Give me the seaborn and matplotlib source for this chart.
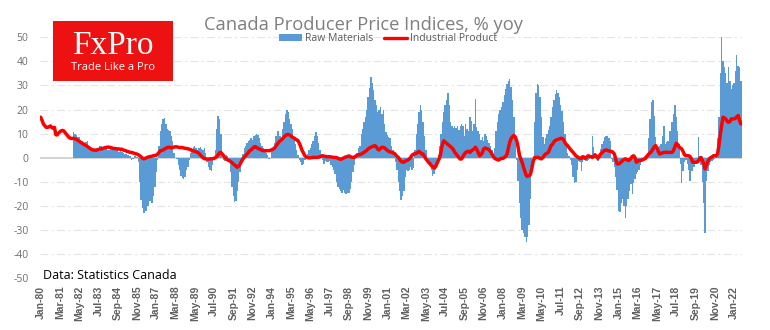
import numpy as np
import pandas as pd
import matplotlib
matplotlib.use("Agg")
import matplotlib.pyplot as plt
import seaborn as sns
from matplotlib.patches import Rectangle, Patch
from matplotlib.lines import Line2D

# ---------------- data (monthly, % yoy), Jan-1980 .. Jun-2022 ----------------
industrial_product = [
    16.8, 15.5, 14.0, 13.2, 12.6, 12.6, 12.8, 13.2, 12.6, 12.2, 12.6, 9.5,    # 1980
    9.5, 10.2, 10.8, 11.2, 11.3, 11.0, 10.2, 9.5, 8.8, 8.2, 8.0, 8.0,        # 1981
    8.0, 7.8, 7.6, 7.2, 6.8, 6.4, 6.0, 5.7, 5.3, 5.0, 4.6, 4.2,              # 1982
    3.8, 3.4, 3.2, 3.2, 3.0, 3.2, 3.4, 3.6, 3.6, 3.8, 4.0, 4.2,              # 1983
    4.3, 4.4, 4.3, 4.2, 4.0, 3.8, 3.8, 3.7, 3.6, 3.6, 3.5, 3.5,              # 1984
    3.2, 3.0, 2.8, 2.6, 2.4, 2.2, 2.2, 2.0, 1.8, 1.6, 1.5, 1.2,              # 1985
    0.8, 0.3, -0.2, -0.5, -0.3, 0.0, 0.2, 0.4, 0.5, 0.6, 0.8, 0.9,           # 1986
    1.0, 1.5, 2.2, 2.9, 3.0, 3.2, 3.6, 3.9, 4.2, 4.3, 4.2, 4.1,              # 1987
    4.2, 4.4, 4.5, 4.5, 4.3, 4.2, 4.2, 4.2, 4.0, 3.9, 3.8, 3.7,              # 1988
    3.5, 3.3, 3.0, 2.8, 2.6, 2.4, 2.2, 1.8, 1.2, 0.5, 0.0, -0.4,             # 1989
    -0.5, -0.6, -0.6, -0.5, -0.5, -0.4, -0.3, 0.0, 0.5, 1.2, 2.0, 2.2,       # 1990
    1.5, 0.8, 0.0, -0.6, -1.0, -1.2, -1.6, -2.0, -2.6, -3.0, -3.6, -4.0,     # 1991
    -3.5, -2.6, -1.5, -0.5, 0.2, 0.8, 1.5, 2.2, 2.9, 3.2, 3.8, 4.4,          # 1992
    4.6, 4.2, 3.8, 3.6, 3.3, 3.0, 2.9, 2.9, 2.9, 2.9, 2.9, 3.0,              # 1993
    3.3, 3.6, 4.0, 4.8, 5.6, 6.4, 6.9, 7.4, 8.0, 8.6, 9.2, 9.6,              # 1994
    9.6, 9.4, 9.0, 8.5, 8.2, 7.8, 7.4, 7.1, 6.0, 4.6, 3.0, 2.0,              # 1995
    0.8, 0.3, 0.0, -0.1, -0.1, 0.0, 0.1, 0.1, 0.1, 0.1, 0.2, 0.4,            # 1996
    0.6, 0.8, 0.6, 0.5, 0.4, 0.4, 0.4, 0.3, 0.2, 0.1, 0.1, 0.0,              # 1997
    -0.2, -0.5, -0.7, -0.5, -0.2, 0.1, 0.3, 0.5, 0.7, 0.4, 0.2, 0.1,         # 1998
    0.1, 0.6, 1.0, 1.2, 1.3, 1.5, 1.8, 2.2, 2.6, 3.0, 3.6, 4.0,              # 1999
    4.3, 4.6, 4.8, 5.0, 4.5, 3.5, 3.2, 3.8, 4.3, 4.3, 4.0, 3.5,              # 2000
    3.0, 2.6, 2.4, 2.2, 2.0, 1.8, 1.2, 0.5, 0.1, -0.8, -1.5, -1.9,           # 2001
    -1.9, -1.5, -1.2, -1.0, -0.5, 0.2, 1.0, 1.5, 1.5, 1.8, 2.2, 2.6,         # 2002
    2.2, 1.5, 1.5, 0.5, -0.5, -1.2, -2.0, -2.5, -3.3, -3.8, -4.3, -3.8,      # 2003
    -2.5, -1.2, 0.0, 2.5, 5.5, 7.0, 6.5, 6.0, 5.5, 5.0, 4.5, 4.0,            # 2004
    3.3, 2.2, 1.5, 0.8, 0.0, -0.6, -0.5, 0.5, 1.5, 2.2, 2.5, 2.6,            # 2005
    2.2, 2.8, 3.2, 3.6, 4.3, 3.5, 2.2, 0.8, 1.2, 2.0, 3.6, 4.0,              # 2006
    3.8, 3.6, 3.2, 2.5, 1.5, 0.5, -0.3, -0.6, -0.8, -1.0, -0.5, -0.3,        # 2007
    -0.3, 0.1, 0.5, 1.5, 4.0, 6.5, 8.0, 8.8, 9.2, 8.5, 7.0, 4.5,             # 2008
    1.0, -0.5, -2.0, -4.0, -5.8, -7.5, -7.8, -7.5, -7.0, -4.5, -1.5, 0.0,    # 2009
    0.1, 0.1, 0.0, -0.3, -0.5, 0.0, 0.8, 1.5, 1.8, 2.2, 3.5, 5.0,            # 2010
    5.5, 6.5, 7.1, 7.4, 7.6, 7.8, 8.0, 8.0, 7.5, 6.4, 5.5, 5.0,              # 2011
    4.2, 3.5, 2.8, 2.2, 1.5, 0.8, 0.4, 0.0, -0.3, -0.3, 0.4, 0.2,            # 2012
    -0.3, 0.3, 0.8, 0.5, 0.4, 0.1, 0.5, 1.2, 0.5, -0.3, 0.5, 1.5,            # 2013
    2.0, 2.6, 3.0, 3.2, 3.0, 2.8, 2.6, 2.6, 2.2, 1.5, -0.5, -2.6,            # 2014
    -2.6, -2.3, -1.8, -1.2, -0.8, -0.5, -0.8, -1.2, -1.0, -0.3, 0.5, 0.8,    # 2015
    0.0, -1.9, -1.5, -1.2, -1.2, -1.0, -0.8, -0.5, 0.1, 0.8, 1.5, 2.0,       # 2016
    2.6, 3.5, 4.5, 5.0, 4.0, 2.5, 1.5, 1.8, 2.0, 2.2, 2.2, 2.2,              # 2017
    2.2, 2.2, 2.2, 2.2, 3.0, 4.5, 6.0, 5.5, 4.5, 4.0, 3.6, 2.5,              # 2018
    1.2, 0.8, 0.8, 0.8, 0.5, -0.5, -1.9, -1.9, -1.9, -1.9, -1.5, -0.3,       # 2019
    0.1, -1.2, -2.5, -4.7, -3.0, -1.5, -0.5, 0.0, 0.3, 0.8, 0.8, 0.8,        # 2020
    1.5, 5.0, 9.5, 13.5, 16.8, 16.5, 16.1, 15.0, 14.7, 15.0, 16.1, 16.1,     # 2021
    16.1, 16.3, 17.0, 17.5, 15.5, 14.0,                                      # 2022
]

raw_materials = [
    None, None, None, None, None, None, None, None, None, None, None, None,  # 1980
    None, None, None, None, None, None, None, None, None, None, None, None,  # 1981
    10.5, 10.0, 9.5, 8.5, 8.5, 7.5, 7.0, 6.5, 6.0, 6.5, 7.0, 5.0,            # 1982
    4.5, 4.0, 3.5, 3.0, 3.0, 4.0, 4.0, 5.0, 5.0, 4.0, 4.5, 4.0,              # 1983
    3.5, 3.0, 3.0, 4.0, 3.5, 3.0, 3.0, 3.5, 3.0, 2.5, 3.0, 2.5,              # 1984
    2.0, 1.5, 1.5, 1.0, 1.0, 0.5, -1.0, -0.5, 0.5, 0.5, 0.2, -2.0,           # 1985
    -10.0, -17.5, -21.0, -23.0, -22.0, -22.0, -20.0, -18.0, -18.0, -19.0, -16.0, -12.0,  # 1986
    -6.0, -1.0, 5.0, 11.0, 14.0, 16.0, 16.5, 14.0, 12.0, 11.5, 11.0, 9.0,    # 1987
    7.0, 2.0, 0.0, -0.5, -3.0, -5.0, -7.5, -8.5, -9.0, -8.0, -5.0, -4.0,     # 1988
    -1.0, 2.0, 3.0, 4.5, 5.0, 4.0, 3.0, 4.0, 4.5, 3.5, 3.0, 4.0,             # 1989
    2.0, -2.0, -4.0, -5.0, -5.5, -3.0, -1.0, 3.0, 12.0, 17.5, 16.0, 10.0,    # 1990
    2.0, -1.0, -1.5, 1.0, 0.5, -2.0, -6.0, -12.0, -16.0, -18.5, -18.0, -14.0,  # 1991
    -10.0, -6.0, -2.0, 1.5, 4.0, 5.0, 6.0, 7.0, 7.5, 8.0, 7.5, 9.0,          # 1992
    9.5, 10.0, 9.5, 8.0, 6.0, 5.0, 4.0, 3.0, 2.0, 1.0, -0.5, 0.0,            # 1993
    2.5, 4.0, 6.0, 9.0, 11.0, 11.0, 9.0, 7.0, 12.0, 15.0, 18.0, 20.0,        # 1994
    19.0, 16.0, 14.0, 12.0, 8.0, 5.5, 3.0, 1.0, -1.0, -2.0, -3.0, -2.5,      # 1995
    -1.0, 0.5, 1.5, 3.0, 4.0, 5.5, 7.0, 9.0, 10.5, 9.0, 6.0, 3.0,            # 1996
    1.5, -1.0, -2.5, -1.5, -2.0, -2.0, -1.5, -3.0, -4.0, -5.0, -7.0, -10.0,  # 1997
    -12.0, -13.0, -14.0, -14.5, -13.5, -14.5, -15.0, -14.5, -14.5, -13.0, -10.0, -6.0,  # 1998
    -3.0, 0.0, 2.0, 4.0, 5.0, 9.9, 12.0, 15.0, 17.0, 20.0, 25.0, 29.0,       # 1999
    33.5, 31.0, 28.0, 24.0, 22.0, 19.0, 20.0, 21.0, 18.0, 20.0, 14.0, 10.5,  # 2000
    9.5, 8.5, 8.0, 5.0, 3.0, 1.0, -2.0, -5.0, -10.0, -14.0, -17.5, -16.0,    # 2001
    -14.0, -8.0, -5.0, -5.5, -5.0, -4.0, -5.0, -4.5, 3.0, 10.0, 14.0, 19.0,  # 2002
    21.7, 20.0, 15.0, 9.0, 3.0, 0.0, -2.0, -3.0, -5.0, -7.5, -7.0, -5.0,     # 2003
    -3.0, 1.0, 5.0, 10.0, 15.0, 19.0, 22.0, 24.0, 27.0, 22.0, 15.0, 13.0,    # 2004
    12.5, 13.3, 12.5, 13.3, 11.5, 13.0, 14.0, 13.3, 9.0, 14.0, 12.0, 11.0,   # 2005
    16.8, 15.4, 11.0, 14.0, 24.4, 12.6, 11.0, 9.9, 7.5, 8.5, 7.1, 9.9,       # 2006
    9.0, 7.5, 6.0, 5.0, 3.0, 1.5, 4.0, 11.0, 15.0, 18.0, 20.0, 21.0,         # 2007
    23.0, 26.0, 28.5, 30.5, 32.0, 32.5, 29.5, 24.0, 17.0, 6.0, -1.0, -9.5,   # 2008
    -19.0, -25.0, -30.0, -31.5, -33.0, -35.0, -33.0, -28.0, -17.0, -5.0, 0.0, 15.0,  # 2009
    27.0, 30.5, 30.0, 25.0, 17.0, 8.5, 5.5, 8.0, 10.0, 11.5, 13.0, 17.0,     # 2010
    21.0, 24.0, 26.5, 28.0, 27.0, 25.0, 22.0, 19.5, 15.0, 10.0, 6.0, 2.0,    # 2011
    0.5, -1.0, -3.0, -8.0, -10.5, -10.0, -5.0, -1.5, -2.0, -5.5, -2.0, -1.0,  # 2012
    -1.5, -1.5, -1.0, -0.5, 1.0, 9.0, 4.5, 1.5, 0.0, -1.5, 1.5, 3.5,         # 2013
    5.5, 7.0, 8.5, 9.0, 9.2, 8.0, 7.0, -0.5, -2.0, -4.0, -8.0, -13.5,        # 2014
    -22.0, -22.5, -19.0, -17.0, -20.0, -25.0, -20.0, -17.0, -14.0, -11.0, -15.0, -10.5,  # 2015
    -9.0, -7.0, -6.0, -5.0, -3.0, -0.5, -1.2, -0.5, -1.0, -0.5, 8.0, 16.0,   # 2016
    23.0, 24.0, 17.5, 8.5, 5.0, 4.3, 5.0, 5.7, 9.0, 13.0, 5.7, 6.5,          # 2017
    7.0, 11.0, 11.0, 15.0, 18.0, 22.0, 17.0, 11.0, 5.7, -2.5, -10.5, -5.5,   # 2018
    -2.0, -1.0, -2.5, -5.0, -9.5, -5.5, -5.5, -4.0, -2.5, -1.5, 8.5, 0.5,    # 2019
    -3.0, -10.0, -19.0, -31.5, -9.5, -5.5, -3.0, -2.0, -1.5, -1.0, -0.5, 0.5,  # 2020
    8.0, 17.0, 35.0, 50.0, 40.0, 37.5, 35.0, 31.0, 37.5, 32.0, 28.5, 30.0,   # 2021
    31.0, 36.0, 42.5, 38.0, 37.5, 32.0,                                      # 2022
]

tick_labels = ["Jan-80", "Mar-81", "May-82", "Jul-83", "Sep-84", "Nov-85",
               "Jan-87", "Mar-88", "May-89", "Jul-90", "Sep-91", "Nov-92",
               "Jan-94", "Mar-95", "May-96", "Jul-97", "Sep-98", "Nov-99",
               "Jan-01", "Mar-02", "May-03", "Jul-04", "Sep-05", "Nov-06",
               "Jan-08", "Mar-09", "May-10", "Jul-11", "Sep-12", "Nov-13",
               "Jan-15", "Mar-16", "May-17", "Jul-18", "Sep-19", "Nov-20",
               "Jan-22"]
tick_step = 14  # months between labels
y_ticks = [-50, -40, -30, -20, -10, 0, 10, 20, 30, 40, 50]

title = "Canada Producer Price Indices, % yoy"
source = "Data: Statistics Canada"

# ---------------- build frame ----------------
df = pd.DataFrame({
    "month": np.arange(len(industrial_product)),
    "industrial": np.array(industrial_product, dtype=float),
    "raw": np.array(raw_materials, dtype=float),
})
bars = df.dropna(subset=["raw"])

sns.set_theme(style="white")
plt.rcParams["font.family"] = ["Open Sans", "DejaVu Sans"]

BLUE = "#5B9BD5"
RED = "#FF0000"
GRAY = "#6f6f6f"

fig = plt.figure(figsize=(7.7, 3.3), dpi=100)
ax = fig.add_axes([40 / 770, 1 - 278 / 330, (741.6 - 40) / 770, 240.7 / 330])

sns.barplot(data=bars, x="month", y="raw", native_scale=True, color=BLUE,
            saturation=1, width=1.0, linewidth=0, errorbar=None, ax=ax, zorder=2)
sns.lineplot(data=df, x="month", y="industrial", color=RED, linewidth=2.5,
             ax=ax, zorder=4)

ax.axhline(0, color="#d4d4d4", lw=1.4, zorder=1.5)
for yv in y_ticks:
    if yv != 0:
        ax.axhline(yv, color="#e4e4e4", lw=0.8, linestyle=(0, (7, 3, 2, 3)), zorder=0.5)

n = len(industrial_product)
ax.set_xlim(-0.5, n - 0.5)
ax.set_ylim(-50, 50)
ax.set_yticks(y_ticks)
ax.set_yticklabels([str(v) for v in y_ticks])
ax.set_xticks(np.arange(0, tick_step * len(tick_labels), tick_step))
ax.set_xticklabels(tick_labels, rotation=90, fontsize=7.5, fontweight="bold",
                   color="#5f5f5f", family="Liberation Sans")
ax.tick_params(axis="y", labelsize=7.5, labelcolor=GRAY, length=0, pad=8.4)
ax.tick_params(axis="x", length=0, pad=5.5)
for s in ax.spines.values():
    s.set_visible(False)
ax.set_xlabel("")
ax.set_ylabel("")
ax.grid(False)

# title
fig.text(364 / 770, 1 - 29.5 / 330, title, ha="center", va="baseline",
         fontsize=13.2, color="#7f7f7f")

# legend
handles = [Patch(facecolor=BLUE, edgecolor="none", label="Raw Materials"),
           Line2D([0], [0], color=RED, lw=2.4, label="Industrial Product")]
fig.legend(handles=handles, loc="center", bbox_to_anchor=(388 / 770, 1 - 38.5 / 330),
           ncol=2, frameon=False, fontsize=7.5, handlelength=2.2, handleheight=0.6,
           columnspacing=1.0, handletextpad=0.3, labelcolor="#595959",
           borderaxespad=0, borderpad=0)

# logo
fig.patches.append(Rectangle((53.3 / 770, 1 - 80.7 / 330), 119.4 / 770, 59.7 / 330,
                             transform=fig.transFigure, facecolor="#EE1111",
                             edgecolor="none", zorder=10))
fig.text(113 / 770, 1 - 54 / 330, "FxPro", ha="center", va="baseline",
         fontsize=24, color="white", family="Liberation Serif", zorder=11)
fig.text(113 / 770, 1 - 70 / 330, "Trade Like a Pro", ha="center", va="baseline",
         fontsize=8, color="white", zorder=11)

# source
fig.text(43 / 770, 1 - 279 / 330, source, ha="left", va="baseline",
         fontsize=9, color="black")

fig.savefig("out.png", dpi=100)
